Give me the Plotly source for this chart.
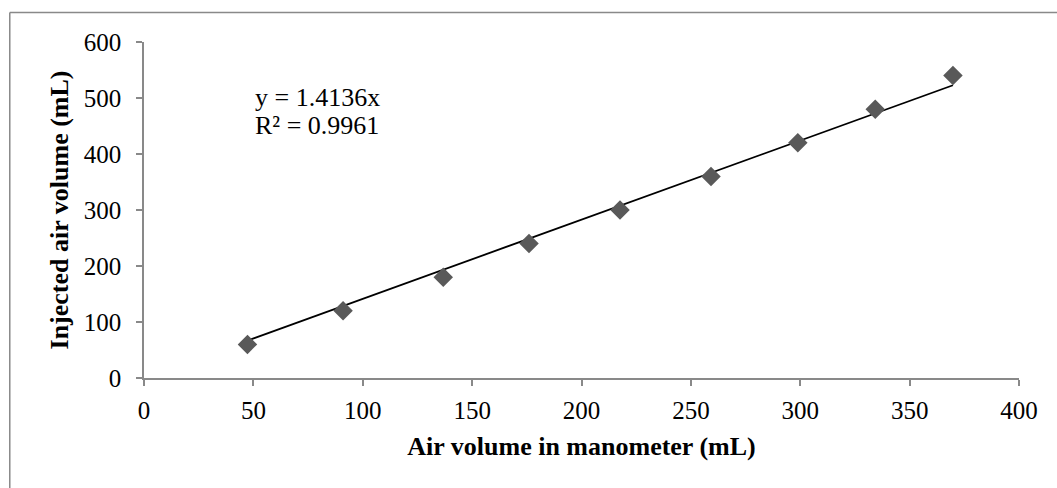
import plotly.graph_objects as go

# Calibration readings
manometer_ml = [47.3, 91.0, 136.8, 176.0, 217.6, 259.2, 298.9, 334.3, 369.8]
injected_ml = [60, 120, 180, 240, 300, 360, 420, 480, 540]

slope = 1.4136
r_squared = 0.9961
x_ticks = [0, 50, 100, 150, 200, 250, 300, 350, 400]
y_ticks = [0, 100, 200, 300, 400, 500, 600]

font_family = "Liberation Serif, Times New Roman, serif"
gray = "#898989"

trend_x = [min(manometer_ml), max(manometer_ml)]
trend_y = [slope * v for v in trend_x]

fig = go.Figure()
fig.add_trace(go.Scatter(
    x=trend_x, y=trend_y, mode="lines",
    line=dict(color="black", width=1.8),
    hoverinfo="skip", showlegend=False,
))
fig.add_trace(go.Scatter(
    x=manometer_ml, y=injected_ml, mode="markers",
    marker=dict(symbol="diamond", size=15, color="#595959"),
    showlegend=False,
))

# Trendline equation and fit quality
eq_font = dict(family=font_family, size=26, color="black")
fig.add_annotation(
    x=0.1245, y=0.836, xref="paper", yref="paper",
    xanchor="left", yanchor="middle", showarrow=False,
    text=f"y = {slope}x", font=eq_font,
)
fig.add_annotation(
    x=0.1245, y=0.752, xref="paper", yref="paper",
    xanchor="left", yanchor="middle", showarrow=False,
    text=f"R² = {r_squared}", font=eq_font,
)

# Chart-area border (top and left edges)
border = dict(color=gray, width=1.5)
fig.add_shape(type="line", xref="paper", yref="paper",
              x0=-0.1534, x1=-0.1534, y0=-0.5, y1=1.088, line=border)
fig.add_shape(type="line", xref="paper", yref="paper",
              x0=-0.1534, x1=1.2, y0=1.088, y1=1.088, line=border)

axis_common = dict(
    showgrid=False, zeroline=False, showline=True,
    linecolor=gray, linewidth=1.5,
    ticks="outside", ticklen=6, tickwidth=1.5, tickcolor=gray,
    tickfont=dict(family=font_family, size=25, color="black"),
)
title_font = dict(family=font_family, size=26, color="black")

fig.update_xaxes(
    range=[0, 400], tickvals=x_ticks, ticklabelstandoff=3,
    title=dict(text="<b>Air volume in manometer (mL)</b>", standoff=14,
               font=title_font),
    **axis_common,
)
fig.update_yaxes(
    range=[0, 600], tickvals=y_ticks, ticklabelstandoff=10,
    title=dict(text="<b>Injected air volume (mL)</b>", standoff=8,
               font=title_font),
    **axis_common,
)

fig.update_layout(
    width=1057, height=488,
    margin=dict(l=144, r=38, t=42, b=110),
    plot_bgcolor="white", paper_bgcolor="white",
)

fig.write_html("out.html")
